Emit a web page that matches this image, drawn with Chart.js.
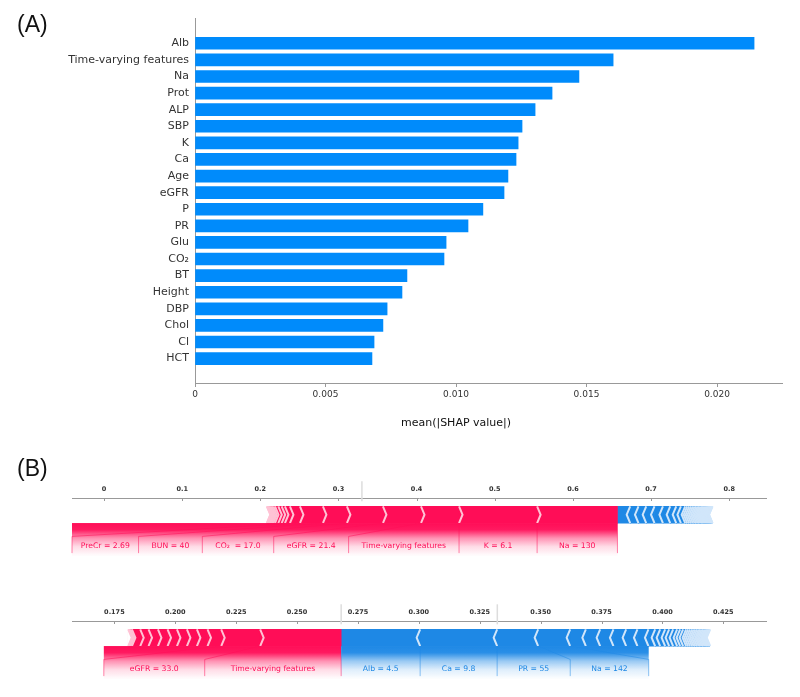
<!DOCTYPE html>
<html>
<head>
<meta charset="utf-8">
<script src="https://cdn.jsdelivr.net/npm/chart.js@4.4.1/dist/chart.umd.min.js"></script>
<style>
  html, body { margin: 0; padding: 0; background: #fff; width: 800px; height: 697px; overflow: hidden; }
  canvas { position: absolute; left: 0; }
  .panel { position: absolute; font-family: "Liberation Sans", Arial, sans-serif; font-size: 23px; line-height: 23px; color: #111; z-index: 2; }
</style>
</head>
<body>
<div class="panel" style="left:17px;top:13px">(A)</div>
<div class="panel" style="left:17px;top:457px">(B)</div>
<canvas id="barA" width="800" height="445" style="top:0px;width:800px;height:445px"></canvas>
<canvas id="force1" width="800" height="110" style="top:460px;width:800px;height:110px"></canvas>
<canvas id="force2" width="800" height="110" style="top:583px;width:800px;height:110px"></canvas>
<script>
// ---------------- DATA ----------------
// Panel (A): mean(|SHAP value|) per feature
const featureNames = ['Alb', 'Time-varying features', 'Na', 'Prot', 'ALP', 'SBP', 'K', 'Ca', 'Age', 'eGFR',
                      'P', 'PR', 'Glu', 'CO₂', 'BT', 'Height', 'DBP', 'Chol', 'Cl', 'HCT'];
const meanAbsShap = [0.02142, 0.01602, 0.01471, 0.01368, 0.01303, 0.01253, 0.01238, 0.01230, 0.01199, 0.01184,
                     0.01103, 0.01046, 0.00962, 0.00954, 0.00812, 0.00793, 0.00736, 0.00720, 0.00686, 0.00678];
const xTicksA = [0, 0.005, 0.010, 0.015, 0.020];
const xTickLabelsA = ['0', '0.005', '0.010', '0.015', '0.020'];
const xTitleA = 'mean(|SHAP value|)';

// Panel (B), force plot 1 (values ordered from the output value outward)
const outValue1 = 0.657;
const redLabels1 = ['Na = 130', 'K = 6.1', 'Time-varying features', 'eGFR = 21.4', 'CO₂  = 17.0', 'BUN = 40', 'PreCr = 2.69'];
const redValues1 = [0.1028, 0.0999, 0.0487, 0.0487, 0.0461, 0.0307, 0.0294,
                    0.0128, 0.0064, 0.0042, 0.0043, 0.0042,
                    0.0022, 0.0019, 0.0016, 0.0013, 0.0011, 0.0009, 0.0007, 0.0005, 0.0003];
const blueLabels1 = [];
const blueValues1 = [0.0163, 0.0106, 0.0099, 0.0106, 0.0108, 0.0093, 0.0077, 0.0060, 0.0055,
                     0.0026, 0.0025, 0.0024, 0.0023, 0.0022, 0.0021, 0.0020, 0.0019, 0.0018, 0.0017, 0.0016,
                     0.0015, 0.0014, 0.0013, 0.0012, 0.0011, 0.0010, 0.0009, 0.0008, 0.0007, 0.0006,
                     0.0005, 0.0004, 0.0003, 0.0002];
const xTicks1 = [0, 0.1, 0.2, 0.3, 0.4, 0.5, 0.6, 0.7, 0.8];
const xTickLabels1 = ['0', '0.1', '0.2', '0.3', '0.4', '0.5', '0.6', '0.7', '0.8'];

// Panel (B), force plot 2
const outValue2 = 0.2681;
const redLabels2 = ['Time-varying features', 'eGFR = 33.0'];
const redValues2 = [0.03325, 0.0160, 0.00562, 0.00435, 0.0041, 0.0041, 0.00386, 0.00394, 0.00386, 0.00341, 0.00341,
                    0.0006, 0.0004, 0.0003, 0.0002];
const blueLabels2 = ['Alb = 4.5', 'Ca = 9.8', 'PR = 55', 'Na = 142'];
const blueValues2 = [0.03243, 0.03161, 0.01683, 0.01314, 0.00644, 0.00587, 0.00546, 0.00521, 0.00464, 0.00452,
                     0.00275, 0.00205, 0.00205, 0.00164, 0.00164, 0.00164, 0.00123, 0.00123, 0.00123,
                     0.0008, 0.0008, 0.0008, 0.0007, 0.0007, 0.0007, 0.0007, 0.0006, 0.0006, 0.0006, 0.0006,
                     0.0005, 0.0005, 0.0004, 0.0004, 0.0003, 0.0002];
const xTicks2 = [0.175, 0.200, 0.225, 0.250, 0.275, 0.300, 0.325, 0.350, 0.375, 0.400, 0.425];
const xTickLabels2 = ['0.175', '0.200', '0.225', '0.250', '0.275', '0.300', '0.325', '0.350', '0.375', '0.400', '0.425'];

// ---------------- STYLE ----------------
const FONT = '"DejaVu Sans", "Noto Sans", sans-serif';
Chart.defaults.font.family = FONT;
const RED = '#FF0D57', RED_PALE = '#FFC3D5', RED_RGB = '255,13,87';
const BLUE = '#1E88E5', BLUE_PALE = '#D1E6FA', BLUE_RGB = '30,136,229';
const BAR_A = '#008BFB';

// ---------------- PANEL A ----------------
const titlePluginA = {
  id: 'titleA',
  afterDraw(chart) {
    const ctx = chart.ctx, xs = chart.scales.x;
    ctx.save();
    ctx.font = '11px ' + FONT;
    ctx.fillStyle = '#111';
    ctx.textAlign = 'center';
    ctx.textBaseline = 'middle';
    ctx.fillText(xTitleA, xs.getPixelForValue(0.010), chart.chartArea.bottom + 40);
    ctx.restore();
  }
};

new Chart(document.getElementById('barA'), {
  type: 'bar',
  data: {
    datasets: [{
      data: meanAbsShap.map((v, i) => ({ x: v, y: i })),
      backgroundColor: BAR_A,
      borderWidth: 0,
      barThickness: 12
    }]
  },
  options: {
    indexAxis: 'y',
    responsive: false,
    animation: false,
    events: [],
    layout: { padding: { left: 0, right: 18, top: 18, bottom: 0 } },
    plugins: { legend: { display: false }, tooltip: { enabled: false } },
    scales: {
      x: {
        type: 'linear', min: 0, max: 0.02249,
        afterBuildTicks: sc => { sc.ticks = xTicksA.map(v => ({ value: v })); },
        afterFit: sc => { sc.height = 62; },
        ticks: { callback: (v, i) => xTickLabelsA[i], font: { size: 9 }, color: '#333', padding: 2, maxRotation: 0, autoSkip: false },
        grid: { display: true, drawOnChartArea: false, drawTicks: true, tickLength: 4, color: '#999' },
        border: { display: true, color: '#999', width: 1 }
      },
      y: {
        type: 'linear', reverse: true, min: -0.973, max: 19.92,
        afterBuildTicks: sc => { sc.ticks = featureNames.map((_, i) => ({ value: i })); },
        afterFit: sc => { sc.width = 195; },
        ticks: { callback: (v, i) => featureNames[i], font: { size: 11 }, color: '#333', padding: 6, autoSkip: false },
        grid: { display: false, drawTicks: false },
        border: { display: true, color: '#999', width: 1 }
      }
    }
  },
  plugins: [titlePluginA]
});

// ---------------- PANEL B (force plots) ----------------
const FS = { barH: 16.7, axisH: 38, left: 72, right: 33.3, bottomPad: 38.6, indent: 3.5, sepW: 2, labelSize: 7.7 };

function buildSegments(out, redVals, redLabs, blueVals, blueLabs) {
  const segs = [];
  let p = out;
  redVals.forEach((v, i) => { segs.push({ type: 'pos', lo: p - v, hi: p, label: redLabs[i] || '', outer: i === redVals.length - 1 }); p -= v; });
  p = out;
  blueVals.forEach((v, i) => { segs.push({ type: 'neg', lo: p, hi: p + v, label: blueLabs[i] || '', outer: i === blueVals.length - 1 }); p += v; });
  return segs;
}

function makeForcePlugin(F, segs) {
  return {
    id: 'force_' + F.id,
    afterDatasetsDraw(chart) {
      const ctx = chart.ctx, xs = chart.scales.x, area = chart.chartArea;
      const el = chart.getDatasetMeta(0).data[0];
      const h = el.height, top = el.y - h / 2, bot = el.y + h / 2, mid = el.y;
      const px = v => xs.getPixelForValue(v);
      ctx.save();

      // tick marks below the axis line
      ctx.strokeStyle = '#999'; ctx.lineWidth = 1;
      xs.ticks.forEach(t => {
        const x = Math.round(px(t.value)) + 0.5;
        ctx.beginPath(); ctx.moveTo(x, area.top); ctx.lineTo(x, area.top + 3); ctx.stroke();
      });

      // base value / output value markers
      const redSum = F.red.reduce((a, b) => a + b, 0), blueSum = F.blue.reduce((a, b) => a + b, 0);
      const base = F.out - redSum + blueSum;
      const markers = [base].concat(F.showOut ? [F.out] : []);
      ctx.strokeStyle = '#DDDDDD'; ctx.lineWidth = 1.5;
      markers.forEach(m => {
        const x = px(m);
        ctx.beginPath(); ctx.moveTo(x, bot - 2.5 * h); ctx.lineTo(x, bot - 1.3 * h); ctx.stroke();
      });

      // notch at the outer ends
      segs.filter(s => s.outer).forEach(s => {
        const p = s.type === 'pos' ? px(s.lo) : px(s.hi);
        const d = s.type === 'pos' ? FS.indent : -FS.indent;
        const e = s.type === 'pos' ? -1 : 1;
        ctx.fillStyle = '#fff';
        ctx.beginPath(); ctx.moveTo(p + e, top - 1); ctx.lineTo(p, top - 1); ctx.lineTo(p + d, mid); ctx.lineTo(p, bot + 1); ctx.lineTo(p + e, bot + 1); ctx.closePath(); ctx.fill();
      });

      // separators (chevrons)
      ctx.lineWidth = FS.sepW; ctx.lineJoin = 'miter';
      segs.forEach(s => {
        const p = s.type === 'pos' ? px(s.lo) : px(s.hi);
        const d = s.type === 'pos' ? FS.indent : -FS.indent;
        ctx.strokeStyle = s.type === 'pos' ? RED_PALE : BLUE_PALE;
        ctx.beginPath(); ctx.moveTo(p, top); ctx.lineTo(p + d, mid); ctx.lineTo(p, bot); ctx.stroke();
      });

      // labels
      ctx.font = FS.labelSize + 'px ' + FONT;
      const y0 = bot, yMid = bot + 0.8 * h, y1 = bot + 1.8 * h, yText = bot + 1.5 * h, shadeH = 2 * h;
      const sides = [
        { type: 'pos', sign: 1, color: RED, rgb: RED_RGB, pad: F.padPos },
        { type: 'neg', sign: -1, color: BLUE, rgb: BLUE_RGB, pad: F.padNeg }
      ];
      sides.forEach(side => {
        const list = segs.filter(s => s.type === side.type && s.label);
        if (!list.length) return;
        const outPx = px(F.out);
        let start = outPx;
        const lines = [], texts = [];
        if (side.type === 'pos') lines.push([[outPx, y0], [outPx, y1]]);
        list.forEach(s => {
          const val = side.type === 'pos' ? px(s.lo) : px(s.hi);
          const w = ctx.measureText(s.label).width;
          let boxEnd;
          if (side.sign * (start - val) >= w + side.pad) {
            boxEnd = val;
            lines.push([[val, y0], [val, y1]]);
          } else {
            boxEnd = start - side.sign * (w + 2 * side.pad);
            boxEnd = side.type === 'pos' ? Math.max(boxEnd, area.left) : Math.min(boxEnd, area.right);
            lines.push([[val, y0], [boxEnd, yMid], [boxEnd, y1]]);
          }
          texts.push([s.label, (start + boxEnd) / 2]);
          start = boxEnd;
        });
        // shading
        const x0 = Math.min(outPx, start), x1 = Math.max(outPx, start);
        const g = ctx.createLinearGradient(0, y0, 0, y0 + shadeH);
        g.addColorStop(0, 'rgba(' + side.rgb + ',1)');
        g.addColorStop(0.2, 'rgba(' + side.rgb + ',0.95)');
        g.addColorStop(0.45, 'rgba(' + side.rgb + ',0.45)');
        g.addColorStop(0.7, 'rgba(' + side.rgb + ',0.15)');
        g.addColorStop(1, 'rgba(' + side.rgb + ',0)');
        ctx.fillStyle = g;
        ctx.fillRect(x0, y0, x1 - x0, shadeH);
        // connector lines
        ctx.strokeStyle = 'rgba(' + side.rgb + ',0.5)'; ctx.lineWidth = 1;
        lines.forEach(pts => {
          ctx.beginPath(); ctx.moveTo(pts[0][0], pts[0][1]);
          for (let k = 1; k < pts.length; k++) ctx.lineTo(pts[k][0], pts[k][1]);
          ctx.stroke();
        });
        // texts
        ctx.fillStyle = side.color; ctx.textAlign = 'center'; ctx.textBaseline = 'alphabetic';
        texts.forEach(t => ctx.fillText(t[0], t[1], yText));
      });
      ctx.restore();
    }
  };
}

function forceChart(F) {
  const segs = buildSegments(F.out, F.red, F.redLabels, F.blue, F.blueLabels);
  const datasets = segs.map(s => ({
    data: [[s.lo, s.hi]],
    backgroundColor: s.type === 'pos' ? RED : BLUE,
    borderWidth: 0,
    grouped: false,
    barThickness: FS.barH
  }));
  return new Chart(document.getElementById(F.id), {
    type: 'bar',
    data: { labels: [''], datasets },
    options: {
      indexAxis: 'y', responsive: false, animation: false, events: [],
      layout: { padding: { left: FS.left, right: FS.right, top: 0, bottom: FS.bottomPad } },
      plugins: { legend: { display: false }, tooltip: { enabled: false } },
      scales: {
        x: {
          type: 'linear', position: 'top', min: F.min, max: F.max,
          afterBuildTicks: sc => { sc.ticks = F.ticks.map(v => ({ value: v })); },
          afterFit: sc => { sc.height = FS.axisH; },
          ticks: { callback: (v, i) => F.tickLabels[i], font: { size: 6.5, weight: 'bold' }, color: '#333', padding: 4.5, maxRotation: 0, autoSkip: false },
          grid: { display: false, drawTicks: false },
          border: { display: true, color: '#999', width: 1 }
        },
        y: { display: false }
      }
    },
    plugins: [makeForcePlugin(F, segs)]
  });
}

forceChart({ id: 'force1', out: outValue1, red: redValues1, redLabels: redLabels1, blue: blueValues1, blueLabels: blueLabels1,
             min: -0.041, max: 0.848, ticks: xTicks1, tickLabels: xTickLabels1, padPos: 13, padNeg: 13, showOut: false });
forceChart({ id: 'force2', out: outValue2, red: redValues2, redLabels: redLabels2, blue: blueValues2, blueLabels: blueLabels2,
             min: 0.1576, max: 0.4428, ticks: xTicks2, tickLabels: xTickLabels2, padPos: 26, padNeg: 21, showOut: true });
</script>
</body>
</html>
